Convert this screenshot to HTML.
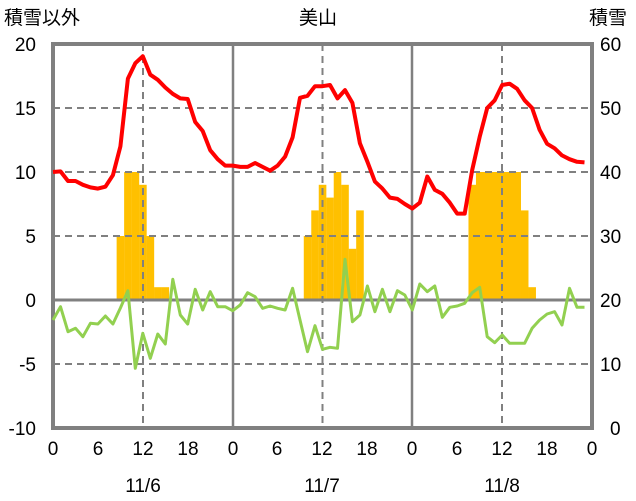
<!DOCTYPE html>
<html><head><meta charset="utf-8"><style>
html,body{margin:0;padding:0;background:#fff;}
svg{display:block;font-family:"Liberation Sans","Noto Sans CJK JP",sans-serif;}
</style></head><body>
<svg id="s" width="636" height="501" viewBox="0 0 636 501" xmlns="http://www.w3.org/2000/svg">
<g id="bars" fill="#FFC000"></g>
<g stroke="#808080" stroke-width="2" stroke-dasharray="7,5" fill="none">
<line x1="53" y1="108" x2="592" y2="108"/>
<line x1="53" y1="172" x2="592" y2="172"/>
<line x1="53" y1="236" x2="592" y2="236"/>
<line x1="53" y1="364" x2="592" y2="364"/>
<line x1="143" y1="44" x2="143" y2="428"/>
<line x1="322.5" y1="44" x2="322.5" y2="428"/>
<line x1="502" y1="44" x2="502" y2="428"/>
</g>
<g stroke="#808080" stroke-width="2.5">
<line x1="233" y1="44" x2="233" y2="428"/>
<line x1="412" y1="44" x2="412" y2="428"/>
<line x1="53" y1="300" x2="592" y2="300" stroke-width="3"/>
</g>
<rect x="53" y="44" width="539" height="384" fill="none" stroke="#808080" stroke-width="4"/>
<polyline id="green" fill="none" stroke="#92D050" stroke-width="3" stroke-linejoin="round"/>
<polyline id="red" fill="none" stroke="#FF0000" stroke-width="4" stroke-linejoin="round"/>
<g font-size="19" fill="#000" text-anchor="end">
<text x="36" y="51">20</text><text x="36" y="115">15</text><text x="36" y="179">10</text>
<text x="36" y="243">5</text><text x="36" y="307">0</text><text x="36" y="371">-5</text><text x="36" y="435">-10</text>
</g>
<g font-size="19" fill="#000" text-anchor="start">
<text x="600" y="51">60</text><text x="600" y="115">50</text><text x="600" y="179">40</text>
<text x="600" y="243">30</text><text x="600" y="307">20</text><text x="600" y="371">10</text><text x="610" y="435">0</text>
</g>
<g font-size="19" fill="#000" text-anchor="middle">
<text x="53" y="455">0</text><text x="98" y="455">6</text><text x="143" y="455">12</text><text x="188" y="455">18</text>
<text x="233" y="455">0</text><text x="277" y="455">6</text><text x="322" y="455">12</text><text x="367" y="455">18</text>
<text x="412" y="455">0</text><text x="457" y="455">6</text><text x="502" y="455">12</text><text x="547" y="455">18</text>
<text x="592" y="455">0</text>
<text x="143" y="492">11/6</text><text x="322" y="492">11/7</text><text x="502" y="492">11/8</text>
<text x="318" y="24">美山</text>
</g>
<g font-size="19" fill="#000">
<text x="4" y="24">積雪以外</text>
<text x="589" y="24">積雪</text>
</g>
</svg>
<script>
var X=function(h){return 53+h*7.486;};
var red=[172,171.4,181,181,184.8,187.4,188.6,186.7,175.2,146.4,78.6,63.2,56.2,74.7,79.8,87.5,93.9,98.4,99,122,131,150.2,159.2,165.6,165.6,166.9,166.9,163,166.9,170.7,165.6,156.6,137.4,97.8,95.8,86.2,86.2,85,98.4,90.1,102.9,143.2,161.8,181.6,188.6,197.6,198.9,204,208.5,202.7,176.5,189.9,193.8,202.7,213.6,213.6,170,136.8,108,100.3,85,83.7,88.8,100.3,108,129.8,143.8,148.3,155.4,159.2,161.8,162.4];
var green=[320,306.7,331.7,328.3,336.7,323.3,324,316,324,308,290.7,368.3,333.3,358.3,334,344,279.3,315,324,289.3,310,291.7,306.7,306.7,310.7,305,292.7,296.7,308.3,306,308.3,310,288.3,320,351.7,325.7,349.3,347.3,348.3,259.3,321.7,315,286,311.7,289.3,311.7,290.7,295,310,284,291.7,286,317.3,307.3,306,303.3,292.7,287.3,336.7,342.7,335,343.3,343.3,343.3,328.3,320,314,311.7,325,288.3,307.3,307.3];
function pts(a){return a.map(function(y,i){return X(i).toFixed(1)+","+y;}).join(" ");}
document.getElementById("red").setAttribute("points",pts(red));
document.getElementById("green").setAttribute("points",pts(green));
var bars={9:5,10:10,11:10,12:9,13:5,14:1,15:1,34:5,35:7,36:9,37:8,38:10,39:9,40:4,41:7,56:9,57:10,58:10,59:10,60:10,61:10,62:10,63:7,64:1};
var g=document.getElementById("bars"),ns="http://www.w3.org/2000/svg";
for(var h in bars){var v=bars[h];var r=document.createElementNS(ns,"rect");
r.setAttribute("x",(X(h-0.5)).toFixed(2));r.setAttribute("width","7.6");
r.setAttribute("y",300-v*12.8);r.setAttribute("height",v*12.8);g.appendChild(r);}
</script>
</body></html>
